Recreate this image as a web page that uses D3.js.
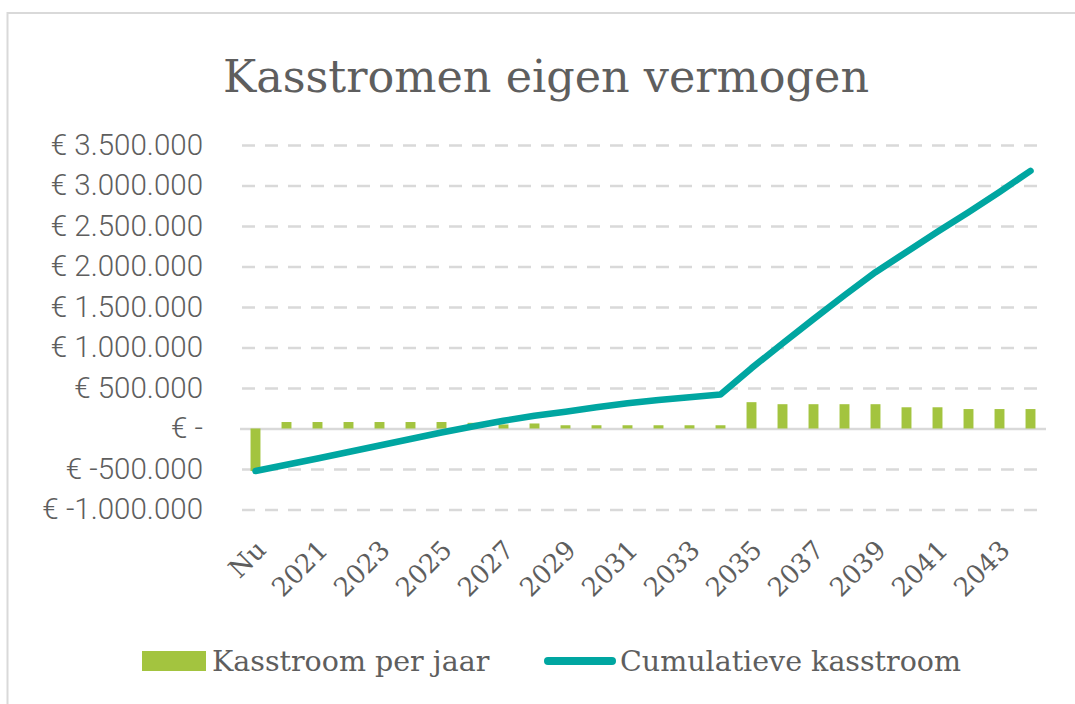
<!DOCTYPE html>
<html>
<head>
<meta charset="utf-8">
<script src="https://cdn.jsdelivr.net/npm/d3@7"></script>
<style>
  html, body { margin: 0; padding: 0; background: #fff; }
  svg { display: block; }
</style>
</head>
<body>
<svg id="mount" width="1075" height="704"></svg>
<script>
var colorBar = "#a3c43f";
var colorLine = "#00a6a1";
var colorText = "#5e5e5e";
var colorGrid = "#d9d9d9";
var slabFont = "'Roboto Slab', 'DejaVu Serif', serif";

// Data
var categories = ["Nu", "2020", "2021", "2022", "2023", "2024", "2025", "2026",
  "2027", "2028", "2029", "2030", "2031", "2032", "2033", "2034", "2035",
  "2036", "2037", "2038", "2039", "2040", "2041", "2042", "2043", "2044"];

var kasstroomPerJaar = [-525000, 80000, 80000, 80000, 80000, 80000, 80000,
  70000, 50000, 62000, 40000, 40000, 40000, 40000, 40000, 40000, 325000,
  300000, 300000, 300000, 300000, 262000, 262000, 240000, 240000, 240000];

var cumulatieveKasstroom = [-525000, -447000, -370000, -290000, -210000,
  -130000, -50000, 25000, 96000, 158000, 207000, 262000, 311000, 352000,
  385000, 420000, 745000, 1050000, 1350000, 1645000, 1930000, 2180000,
  2430000, 2670000, 2920000, 3180000];

var yTicks = [-1000000, -500000, 0, 500000, 1000000, 1500000, 2000000,
  2500000, 3000000, 3500000];

var title = "Kasstromen eigen vermogen";
var legendLabels = ["Kasstroom per jaar", "Cumulatieve kasstroom"];

function euro(v) {
  if (v === 0) return "€ -";
  var s = d3.format(",")(Math.abs(v)).replace(/,/g, ".");
  return "€ " + (v < 0 ? "-" : "") + s;
}

var svg = d3.select("#mount");

// outer frame
svg.append("rect")
  .attr("x", 7.5)
  .attr("y", 13)
  .attr("width", 1100)
  .attr("height", 720)
  .attr("fill", "none")
  .attr("stroke", colorGrid)
  .attr("stroke-width", 2);

var margin = { top: 145, left: 240, right: 1046, bottom: 509.5 };

var x = d3.scaleBand()
  .domain(categories)
  .range([margin.left, margin.right])
  .paddingInner(0.68)
  .paddingOuter(0.34);

var xc = d3.scaleBand()
  .domain(categories)
  .range([margin.left, margin.right]);

var y = d3.scaleLinear()
  .domain([-1000000, 3500000])
  .range([margin.bottom, margin.top]);

// title
svg.append("text")
  .attr("x", 546)
  .attr("y", 92)
  .attr("text-anchor", "middle")
  .attr("fill", colorText)
  .style("font-family", slabFont)
  .style("font-size", "44.5px")
  .text(title);

// gridlines + y labels
var yAxis = svg.append("g")
  .attr("transform", "translate(" + margin.left + ",0)")
  .call(d3.axisLeft(y)
    .tickValues(yTicks)
    .tickSize(-(margin.right - margin.left))
    .tickPadding(37)
    .tickFormat(euro));
yAxis.select(".domain").remove();
yAxis.selectAll(".tick line")
  .attr("stroke", colorGrid)
  .attr("stroke-width", 2.5)
  .attr("stroke-dasharray", function(d) { return d === 0 ? null : "13,10"; })
  .attr("stroke-dashoffset", -2);
yAxis.selectAll(".tick text")
  .attr("fill", colorText)
  .style("font-family", "Roboto, sans-serif")
  .style("font-weight", 300)
  .style("font-size", "29.5px");

// x labels (every other category)
var xAxis = svg.append("g")
  .attr("transform", "translate(0," + margin.bottom + ")")
  .call(d3.axisBottom(xc)
    .tickValues(categories.filter(function(d, i) { return i % 2 === 0; }))
    .tickSize(0));
xAxis.select(".domain").remove();
xAxis.selectAll(".tick text")
  .attr("fill", colorText)
  .style("font-family", slabFont)
  .style("font-size", "26px")
  .attr("text-anchor", "end")
  .attr("x", null)
  .attr("y", null)
  .attr("dy", null)
  .attr("transform", "translate(12,42) rotate(-45)");

// bars
svg.append("g")
  .selectAll("rect")
  .data(kasstroomPerJaar)
  .join("rect")
  .attr("x", function(d, i) { return x(categories[i]); })
  .attr("width", x.bandwidth())
  .attr("y", function(d) { return y(Math.max(0, d)); })
  .attr("height", function(d) { return Math.abs(y(d) - y(0)); })
  .attr("fill", colorBar);

// cumulative line
var line = d3.line()
  .x(function(d, i) { return xc(categories[i]) + xc.bandwidth() / 2; })
  .y(function(d) { return y(d); });

svg.append("path")
  .datum(cumulatieveKasstroom)
  .attr("fill", "none")
  .attr("stroke", colorLine)
  .attr("stroke-width", 6.5)
  .attr("stroke-linejoin", "round")
  .attr("stroke-linecap", "round")
  .attr("d", line);

// legend
var legend = svg.append("g");
legend.append("rect")
  .attr("x", 142)
  .attr("y", 651)
  .attr("width", 64)
  .attr("height", 20)
  .attr("fill", colorBar);
legend.append("text")
  .attr("x", 212)
  .attr("y", 671)
  .attr("fill", colorText)
  .style("font-family", slabFont)
  .style("font-size", "28.5px")
  .text(legendLabels[0]);
legend.append("line")
  .attr("x1", 548)
  .attr("x2", 612)
  .attr("y1", 661)
  .attr("y2", 661)
  .attr("stroke", colorLine)
  .attr("stroke-width", 8)
  .attr("stroke-linecap", "round");
legend.append("text")
  .attr("x", 620)
  .attr("y", 671)
  .attr("fill", colorText)
  .style("font-family", slabFont)
  .style("font-size", "28.5px")
  .text(legendLabels[1]);
</script>
</body>
</html>
